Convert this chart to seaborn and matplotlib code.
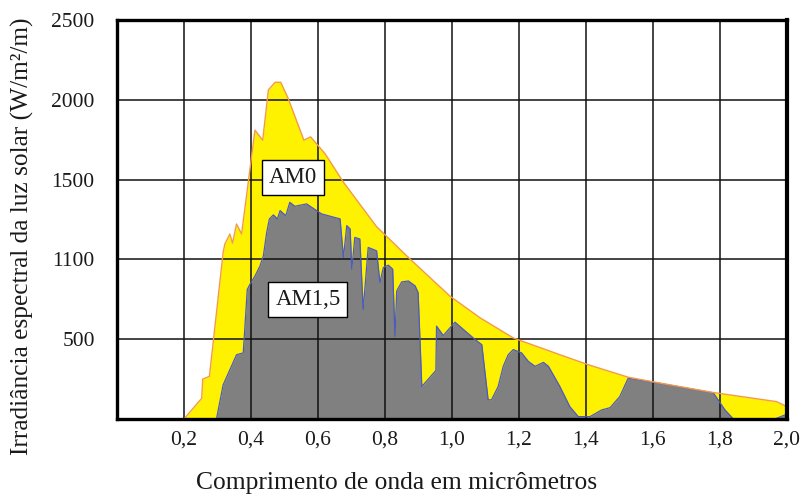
import matplotlib
matplotlib.use("Agg")
import matplotlib.pyplot as plt
import seaborn as sns
import pandas as pd

# Extraterrestrial spectrum (AM0): wavelength in micrometres, irradiance
wl_am0 = [0.20, 0.253, 0.256, 0.276, 0.317, 0.322, 0.337, 0.345, 0.357, 0.372,
          0.412, 0.435, 0.452, 0.472, 0.489, 0.511, 0.558, 0.578, 0.621, 0.676,
          0.775, 0.875, 0.994, 1.084, 1.183, 1.322, 1.407, 1.526, 1.611, 1.780,
          1.969, 2.0]
irr_am0 = [0, 130, 250, 267, 1044, 1096, 1159, 1102, 1222, 1159,
           1810, 1747, 2062, 2110, 2110, 2009, 1747, 1768, 1663, 1484,
           1205, 1002, 770, 634, 508, 403, 340, 262, 229, 166,
           109, 77]

# Ground-level spectrum (AM1,5)
wl_am15 = [0.297, 0.317, 0.357, 0.377, 0.389, 0.397, 0.412, 0.427, 0.437, 0.447,
           0.455, 0.467, 0.479, 0.487, 0.504, 0.516, 0.531, 0.566, 0.611, 0.666,
           0.676, 0.686, 0.696, 0.701, 0.710, 0.725, 0.735, 0.750, 0.775, 0.785,
           0.795, 0.810, 0.823, 0.830, 0.835, 0.850, 0.870, 0.890, 0.899, 0.910,
           0.952, 0.954, 0.974, 1.009, 1.069, 1.089, 1.108, 1.118, 1.138, 1.153,
           1.168, 1.183, 1.208, 1.228, 1.248, 1.273, 1.288, 1.322, 1.352, 1.377,
           1.412, 1.447, 1.472, 1.501, 1.526, 1.611, 1.780, 1.815, 1.840, 1.964,
           2.0]
irr_am15 = [0, 214, 403, 414, 812, 844, 896, 959, 1022, 1169,
            1254, 1279, 1254, 1306, 1274, 1358, 1333, 1348, 1285, 1254,
            1012, 1212, 1191, 939, 1138, 1128, 687, 1075, 1054, 855,
            949, 964, 939, 519, 802, 859, 865, 834, 792, 204,
            304, 582, 523, 607, 498, 466, 120, 120, 204, 330,
            403, 435, 414, 361, 330, 355, 330, 204, 77, 15,
            15, 57, 71, 141, 256, 227, 164, 57, 0, 0,
            31]

x_ticks = [0.2, 0.4, 0.6, 0.8, 1.0, 1.2, 1.4, 1.6, 1.8, 2.0]
x_tick_labels = ["0,2", "0,4", "0,6", "0,8", "1,0", "1,2", "1,4", "1,6", "1,8", "2,0"]
y_ticks = [500, 1000, 1500, 2000, 2500]
y_tick_labels = ["500", "1100", "1500", "2000", "2500"]

df0 = pd.DataFrame({"wl": wl_am0, "irr": irr_am0})
df15 = pd.DataFrame({"wl": wl_am15, "irr": irr_am15})

sns.set_theme(style="white")
plt.rcParams["font.family"] = ["Liberation Serif", "DejaVu Serif"]

fig = plt.figure(figsize=(8.01, 4.95), dpi=100)
ax = fig.add_axes([0.146, 0.1535, 0.8365, 0.806])

YELLOW = "#fff200"
ORANGE = "#f39a4a"
GRAY = "#808080"
BLUE = "#4b5bbf"
TEXT = "#1a1a1a"

ax.fill_between(df0["wl"], df0["irr"], 0, color=YELLOW, lw=0, zorder=1)
ax.fill_between(df15["wl"], df15["irr"], 0, color=GRAY, lw=0, zorder=2)
sns.lineplot(data=df15, x="wl", y="irr", ax=ax, color=BLUE, lw=0.9,
             sort=False, estimator=None, zorder=3)
sns.lineplot(data=df0, x="wl", y="irr", ax=ax, color=ORANGE, lw=1.0,
             sort=False, estimator=None, zorder=4)

ax.set_xlim(0, 2.0)
ax.set_ylim(0, 2500)
ax.set_xticks(x_ticks)
ax.set_xticklabels(x_tick_labels)
ax.set_yticks(y_ticks)
ax.set_yticklabels(y_tick_labels)
ax.tick_params(axis="both", length=0, labelsize=15.5, colors=TEXT)
ax.tick_params(axis="x", pad=8)
ax.tick_params(axis="y", pad=16)

ax.grid(True, color="#111111", lw=1.1)
ax.set_axisbelow(False)
for line in ax.get_xgridlines() + ax.get_ygridlines():
    line.set_zorder(5)

for side in ["left", "bottom", "top"]:
    ax.spines[side].set_visible(True)
    ax.spines[side].set_color("black")
    ax.spines[side].set_linewidth(2.4)
    ax.spines[side].set_zorder(6)
ax.spines["right"].set_visible(True)
ax.spines["right"].set_color("black")
ax.spines["right"].set_linewidth(3.0)
ax.spines["right"].set_zorder(6)

ax.set_xlabel("Comprimento de onda em micrômetros", fontsize=18.4,
              color=TEXT)
ax.xaxis.set_label_coords(0.418, -0.132)
ax.set_ylabel("Irradiância espectral da luz solar (W/m²/m)", fontsize=18.3,
              color=TEXT)
ax.yaxis.set_label_coords(-0.124, 0.459)

box = dict(boxstyle="square,pad=0.3", fc="white", ec="black", lw=1.0)
ax.text(0.525, 1512, "AM0", fontsize=16.5, ha="center", va="center",
        bbox=box, zorder=7, color=TEXT)
ax.text(0.570, 750, "AM1,5", fontsize=16.5, ha="center", va="center",
        bbox=box, zorder=7, color=TEXT)

fig.savefig("out.png", dpi=100)
